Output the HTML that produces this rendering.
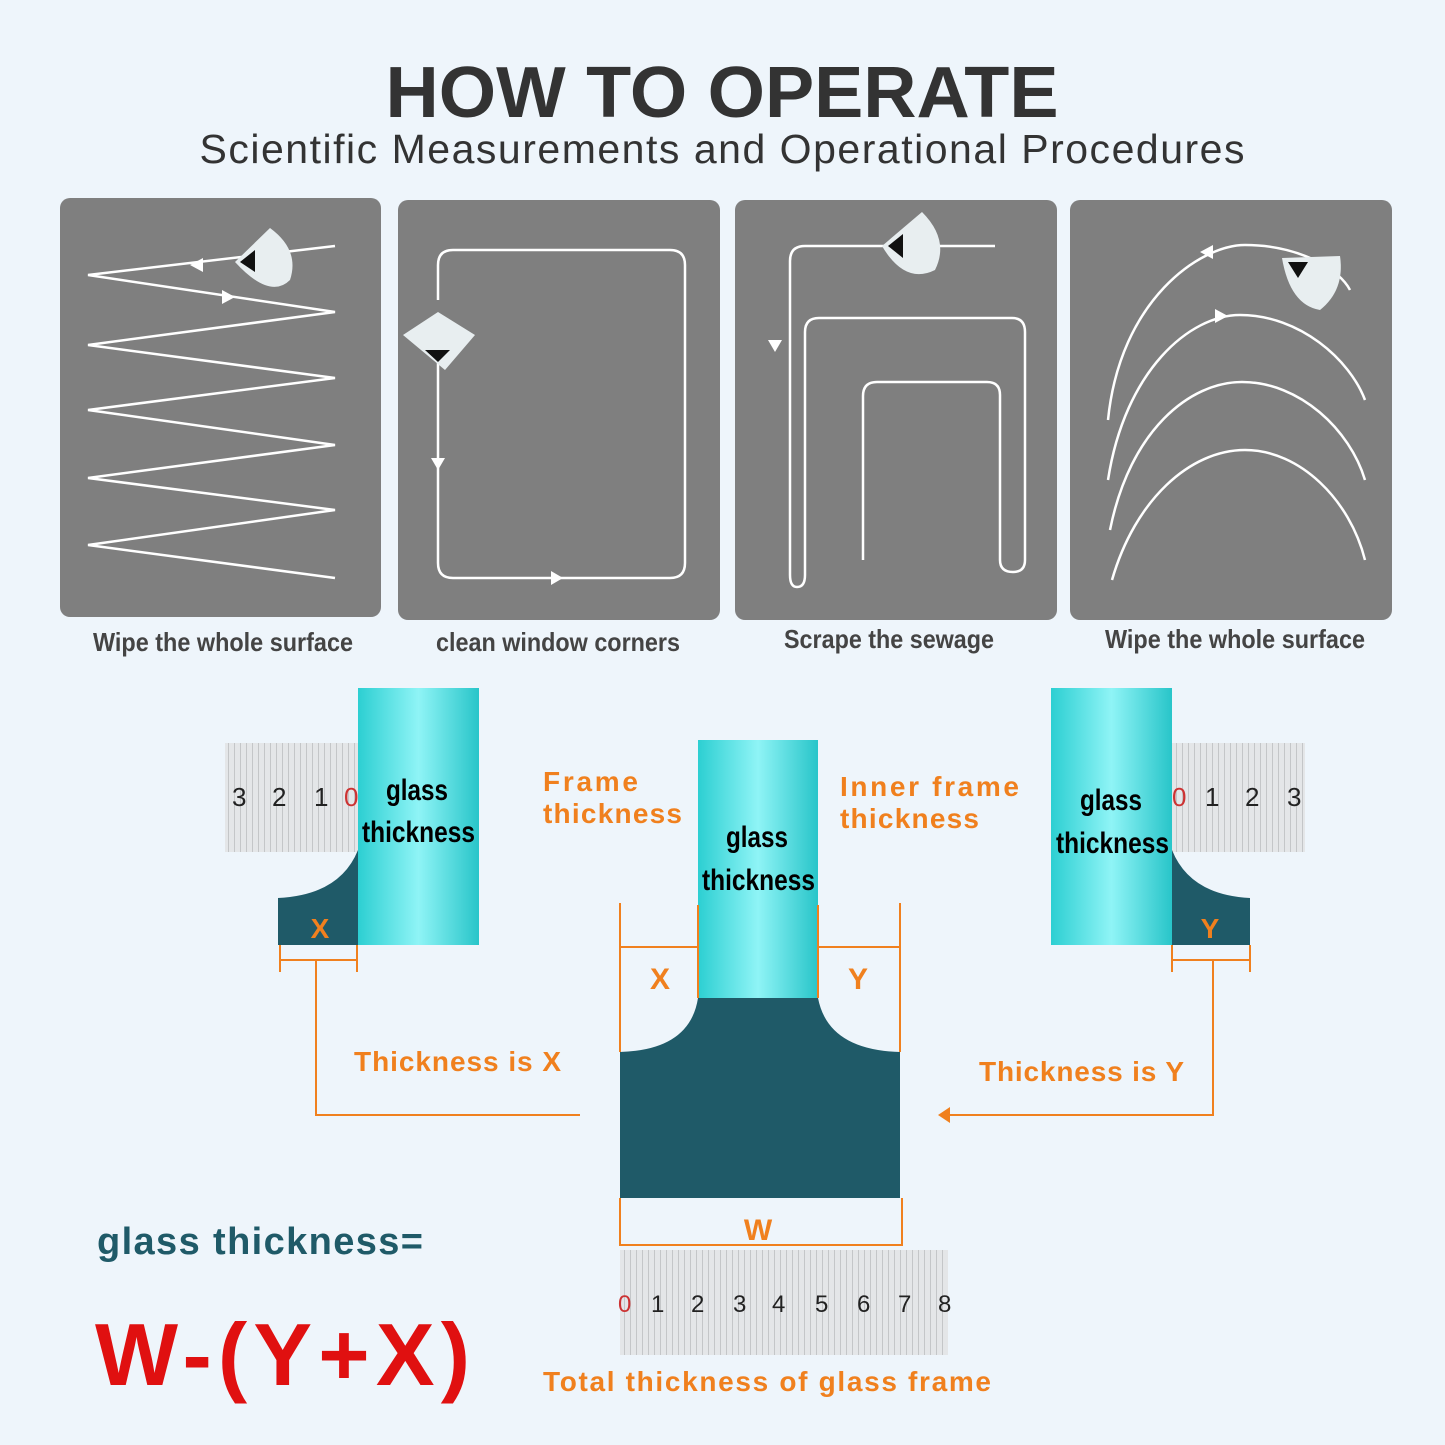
<!DOCTYPE html>
<html><head><meta charset="utf-8"><style>
html,body{margin:0;padding:0;background:#eef5fb;}
svg{display:block}
</style></head><body>
<svg width="1445" height="1445" viewBox="0 0 1445 1445" xmlns="http://www.w3.org/2000/svg" font-family="Liberation Sans, sans-serif">
<defs>
<linearGradient id="cy" x1="0" x2="1" y1="0" y2="0">
<stop offset="0" stop-color="#2ccfd2"/><stop offset="0.5" stop-color="#8ff4f6"/><stop offset="1" stop-color="#28c5c9"/>
</linearGradient>
<pattern id="rl" width="6" height="6" patternUnits="userSpaceOnUse"><rect width="6" height="6" fill="#e4e6e8"/><rect width="1" height="6" fill="#c4c6c8"/></pattern>
</defs>
<rect width="1445" height="1445" fill="#eef5fb"/>
<text x="722" y="117" text-anchor="middle" font-size="72" font-weight="bold" fill="#333" textLength="673" lengthAdjust="spacingAndGlyphs">HOW TO OPERATE</text>
<text x="722" y="163" text-anchor="middle" font-size="41" fill="#333" textLength="1045" lengthAdjust="spacing">Scientific Measurements and Operational Procedures</text>

<g fill="#7f7f7f">
<rect x="60" y="198" width="321" height="419" rx="10"/>
<rect x="398" y="200" width="322" height="420" rx="10"/>
<rect x="735" y="200" width="322" height="420" rx="10"/>
<rect x="1070" y="200" width="322" height="420" rx="10"/>
</g>
<g fill="none" stroke="#fff" stroke-width="2.5">
<polyline points="335,246 88,275 335,312 88,345 335,378 88,410 335,445 88,478 335,510 88,545 335,578"/>
<path d="M438,300 V265 Q438,250 453,250 H670 Q685,250 685,265 V563 Q685,578 670,578 H453 Q438,578 438,563 V360"/>
<path d="M995,246 H805 Q790,246 790,261 V575 Q790,587 797,587 Q805,587 805,575 V332 Q805,318 819,318 H1012 Q1025,318 1025,332 V560 Q1025,572 1013,572 Q1000,572 1000,560 V395 Q1000,382 987,382 H877 Q863,382 863,396 V560"/>
<path d="M1108,420 C1120,300 1200,245 1245,245 C1300,245 1340,270 1350,290"/>
<path d="M1108,480 C1125,370 1190,315 1240,315 C1300,315 1350,360 1365,400"/>
<path d="M1110,530 C1130,430 1190,382 1242,382 C1300,382 1350,430 1365,480"/>
<path d="M1112,580 C1135,500 1190,450 1245,450 C1300,450 1350,500 1365,560"/>
</g>
<g fill="#fff">
<polygon points="190,265 203,258 203,272"/><polygon points="235,297 222,290 222,304"/>
<polygon points="438,470 431,458 445,458"/><polygon points="563,578 551,571 551,585"/>
<polygon points="775,352 768,340 782,340"/><polygon points="1200,252 1213,245 1213,259"/><polygon points="1228,316 1215,309 1215,323"/>
</g>
<g>
<path d="M235,262 L270,228 Q300,250 290,280 Q270,300 235,262Z" fill="#e8eef0"/><polygon points="240,262 255,250 255,272" fill="#111"/>
<path d="M403,335 L438,312 L475,335 L445,370 Z" fill="#e8eef0"/><polygon points="425,350 450,350 438,362" fill="#111"/>
<path d="M882,246 L922,212 Q950,240 935,270 Q905,285 882,246Z" fill="#e8eef0"/><polygon points="888,246 903,234 903,258" fill="#111"/>
<path d="M1282,258 L1340,256 Q1345,290 1320,310 Q1290,305 1282,258Z" fill="#e8eef0"/><polygon points="1288,262 1308,262 1298,278" fill="#111"/>
</g>
<g font-weight="bold" font-size="26" fill="#444" lengthAdjust="spacingAndGlyphs">
<text x="93" y="651" textLength="260" lengthAdjust="spacingAndGlyphs">Wipe the whole surface</text>
<text x="436" y="651" textLength="244" lengthAdjust="spacingAndGlyphs">clean window corners</text>
<text x="784" y="648" textLength="210" lengthAdjust="spacingAndGlyphs">Scrape the sewage</text>
<text x="1105" y="648" textLength="260" lengthAdjust="spacingAndGlyphs">Wipe the whole surface</text>
</g>

<!-- left -->
<rect x="225" y="743" width="133" height="109" fill="url(#rl)"/>
<g font-size="26" fill="#222"><text x="232" y="806">3</text><text x="272" y="806">2</text><text x="314" y="806">1</text><text x="344" y="806" fill="#c33">0</text></g>
<path d="M278,945 V898 Q340,895 358,850 V945Z" fill="#1f5a68"/>
<rect x="358" y="688" width="121" height="257" fill="url(#cy)"/>
<text x="320" y="938" font-size="28" font-weight="bold" fill="#f0801e" text-anchor="middle">X</text>

<!-- right -->
<rect x="1172" y="743" width="133" height="109" fill="url(#rl)"/>
<g font-size="26" fill="#222"><text x="1172" y="806" fill="#c33">0</text><text x="1205" y="806">1</text><text x="1245" y="806">2</text><text x="1287" y="806">3</text></g>
<path d="M1250,945 V898 Q1190,895 1172,850 V945Z" fill="#1f5a68"/>
<rect x="1051" y="688" width="121" height="257" fill="url(#cy)"/>
<text x="1210" y="938" font-size="28" font-weight="bold" fill="#f0801e" text-anchor="middle">Y</text>

<!-- center -->
<rect x="698" y="740" width="120" height="260" fill="url(#cy)"/>
<path d="M620,1198 V1052 Q690,1050 698,998 H818 Q828,1050 900,1052 V1198Z" fill="#1f5a68"/>

<g stroke="#f0801e" stroke-width="2" fill="none">
<path d="M280,945 V972 M357,945 V972 M280,960 H357 M316,960 V1115 H580"/>
<path d="M1172,945 V972 M1250,945 V972 M1172,960 H1250 M1213,960 V1115 H945"/>
<path d="M620,903 V1052 M900,903 V1052 M698,905 V998 M818,905 V998 M620,947 H698 M818,947 H900"/>
<path d="M620,1198 V1245 H902 V1198"/>
</g>
<polygon points="938,1115 950,1107 950,1123" fill="#f0801e"/>

<g font-weight="bold" font-size="30" fill="#000">
<text x="386" y="800" textLength="62" lengthAdjust="spacingAndGlyphs">glass</text><text x="362" y="842" textLength="113" lengthAdjust="spacingAndGlyphs">thickness</text>
<text x="726" y="847" textLength="62" lengthAdjust="spacingAndGlyphs">glass</text><text x="702" y="890" textLength="113" lengthAdjust="spacingAndGlyphs">thickness</text>
<text x="1080" y="810" textLength="62" lengthAdjust="spacingAndGlyphs">glass</text><text x="1056" y="853" textLength="113" lengthAdjust="spacingAndGlyphs">thickness</text>
</g>

<g font-size="30" font-weight="bold" fill="#f0801e" text-anchor="middle">
<text x="660" y="989">X</text><text x="858" y="989">Y</text><text x="758" y="1240">W</text>
</g>
<rect x="620" y="1250" width="328" height="105" fill="url(#rl)"/>
<g font-size="24" fill="#222"><text x="618" y="1312" fill="#c33">0</text><text x="651" y="1312">1</text><text x="691" y="1312">2</text><text x="733" y="1312">3</text><text x="772" y="1312">4</text><text x="815" y="1312">5</text><text x="857" y="1312">6</text><text x="898" y="1312">7</text><text x="938" y="1312">8</text></g>

<g font-size="28" font-weight="bold" fill="#f0801e">
<text x="543" y="791" textLength="95">Frame</text><text x="543" y="823" textLength="139">thickness</text>
<text x="840" y="796" textLength="179">Inner frame</text><text x="840" y="828" textLength="139">thickness</text>
<text x="354" y="1071" textLength="207">Thickness is X</text>
<text x="979" y="1081" textLength="205">Thickness is Y</text>
<text x="543" y="1391" textLength="448">Total thickness of glass frame</text>
</g>
<text x="97" y="1254" font-size="38" font-weight="bold" fill="#1f5a68" textLength="326">glass thickness=</text>
<text x="95" y="1385" font-size="88" font-weight="bold" fill="#e01010" textLength="375">W-(Y+X)</text>
</svg>
</body></html>
